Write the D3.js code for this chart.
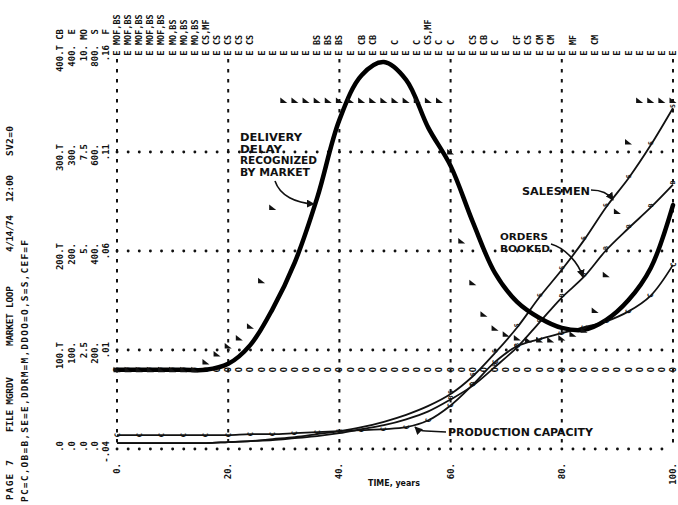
<!DOCTYPE html>
<html>
<head>
<meta charset="utf-8">
<script src="https://cdn.jsdelivr.net/npm/d3@7"></script>
<style>
  body { margin: 0; background: #fff; }
  svg { display: block; }
  .mono { font-family: "DejaVu Sans Mono", "Liberation Mono", monospace; font-weight: bold; fill: #111; }
  .hand { font-family: "DejaVu Sans", sans-serif; font-stretch: condensed; font-weight: bold; fill: #111; }
</style>
</head>
<body>
<div id="chart"></div>
<script>
var chart_width = 678;
var chart_height = 505;

// tempo (anos)
var years = [0, 4, 8, 12, 16, 20, 24, 28, 32, 36, 40, 44, 48, 52, 56, 60, 64, 68, 72, 76, 80, 84, 88, 92, 96, 100];
var print_years = d3.range(0, 101, 2);   // uma linha impressa a cada 2 anos
var time_ticks = [0, 20, 40, 60, 80, 100];
var time_labels = ['0.', '20.', '40.', '60.', '80.', '100.'];

// series
var ddrm = [2.0, 2.0, 2.0, 2.0, 2.0, 2.15, 2.63, 3.54, 4.72, 6.34, 8.31, 9.44, 9.77, 9.32, 8.11, 7.15, 5.73, 4.44, 3.71, 3.31, 3.06, 3.01, 3.26, 3.76, 4.57, 6.16];
var pc = [14, 14, 14, 14, 14, 14, 15, 15, 16, 17, 18, 19, 20, 22, 29, 44, 65, 88, 104, 111, 117, 123, 129, 139, 155, 186];
var ob = [6, 6, 6, 6, 6, 7, 8, 9, 11, 13, 16, 20, 24, 30, 38, 50, 64, 83, 103, 128, 153, 174, 201, 223, 244, 267];
var sm = [12, 12, 12, 12, 12, 14, 16, 20, 24, 30, 36, 44, 55, 69, 87, 111, 147, 194, 246, 307, 362, 422, 489, 547, 614, 689];
// CEF, a cada 2 anos
var cef = [0, 0, 0, 0, 0, 0, 0, 0, .004, .008, .012, .016, .022, .045, .082,
    .136, .136, .136, .136, .136, .136, .136, .136, .136, .136, .136, .136, .136, .136, .136,
    .11, .065, .044, .028, .021, .018, .016, .015, .015, .015, .016, .018, .02, .03, .048, .08, .115, .136, .136, .136, .136];
var ddoo = 2.0;   // constante
var se = 400;     // impresso no topo da escala

// escalas impressas a esquerda
var scale_T = ['.0', '100.T', '200.T', '300.T', '400.T'];
var scale_E = ['.0', '100.', '200.', '300.', '400.'];
var scale_MO = ['.0', '2.5', '5.', '7.5', '10.'];
var scale_S = ['.0', '200.', '400.', '600.', '800.'];
var scale_F = ['-.04', '.01', '.06', '.11', '.16'];
var scale_names = ['CB', 'E', 'MO', 'S', 'F'];

// sobreposicoes impressas no topo
var overlap_years = [0, 2, 4, 6, 8, 10, 12, 14, 16, 18, 20, 22, 24, 36, 38, 40, 44, 46, 50, 54, 56, 58, 60, 64, 66, 68, 72, 74, 76, 78, 82, 86];
var overlap_labels = ['MOF,BS', 'MOF,BS', 'MOF,BS', 'MOF,BS', 'MOF,BS', 'MO,BS', 'MO,BS', 'MO,BS', 'CS,MF', 'CS', 'CS', 'CS', 'CS',
    'BS', 'BS', 'BS', 'CB', 'CB', 'C', 'C', 'CS,MF', 'C', 'C', 'CS', 'CB', 'C', 'CF', 'CS', 'CM', 'CM', 'MF', 'CM'];

var svg = d3.select('#chart')
    .append('svg')
    .attr('width', chart_width)
    .attr('height', chart_height);

svg.append('rect')
    .attr('width', chart_width)
    .attr('height', chart_height)
    .attr('fill', '#fff');

// Criar Escalas
var x_scale = d3.scaleLinear().domain([0, 100]).range([117, 673]);
var y_T = d3.scaleLinear().domain([0, 400]).range([449, 53]);
var y_E = d3.scaleLinear().domain([0, 400]).range([449, 53]);
var y_MO = d3.scaleLinear().domain([0, 10]).range([449, 53]);
var y_S = d3.scaleLinear().domain([0, 800]).range([449, 53]);
var y_F = d3.scaleLinear().domain([-0.04, 0.16]).range([449, 53]);

// texto girado (pagina impressa de lado)
function vtext(x, y, str, size, anchor) {
    return svg.append('text')
        .attr('class', 'mono')
        .attr('transform', 'translate(' + x + ',' + y + ') rotate(-90)')
        .attr('text-anchor', anchor || 'middle')
        .attr('dominant-baseline', 'central')
        .style('font-size', size + 'px')
        .text(str);
}

// grade vertical
svg.selectAll('.vgrid')
    .data(time_ticks)
    .enter()
    .append('line')
    .attr('x1', function (d) { return x_scale(d); })
    .attr('x2', function (d) { return x_scale(d); })
    .attr('y1', y_T(400) + 6)
    .attr('y2', y_T(0))
    .attr('stroke', '#111')
    .attr('stroke-width', 2)
    .attr('stroke-dasharray', '3.5,6.5');

// grade horizontal (pontos)
svg.selectAll('.hgrid')
    .data([0, 100, 200, 300])
    .enter()
    .append('line')
    .attr('x1', x_scale(0))
    .attr('x2', x_scale(100))
    .attr('y1', function (d) { return y_T(d); })
    .attr('y2', function (d) { return y_T(d); })
    .attr('stroke', '#111')
    .attr('stroke-width', 2.8)
    .attr('stroke-linecap', 'round')
    .attr('stroke-dasharray', '0.1,11.02');

// linha de E no topo
print_years.forEach(function (d) {
    vtext(x_scale(d), y_E(se), 'E', 9);
});

// linha de O (DDOO)
print_years.forEach(function (d) {
    vtext(x_scale(d), y_MO(ddoo), 'O', 8.5);
});

// curvas
var line = function (ys, data) {
    return d3.line()
        .x(function (d, i) { return x_scale(years[i]); })
        .y(function (d) { return ys(d); })
        .curve(d3.curveCatmullRom)(data);
};

svg.append('path').attr('d', line(y_T, pc))
    .attr('fill', 'none').attr('stroke', '#111').attr('stroke-width', 1.8);
svg.append('path').attr('d', line(y_T, ob))
    .attr('fill', 'none').attr('stroke', '#111').attr('stroke-width', 1.8);
svg.append('path').attr('d', line(y_S, sm))
    .attr('fill', 'none').attr('stroke', '#111').attr('stroke-width', 1.8);
svg.append('path').attr('d', line(y_MO, ddrm))
    .attr('fill', 'none').attr('stroke', '#000').attr('stroke-width', 4.5)
    .attr('stroke-linecap', 'round');

// caracteres nas curvas
pc.forEach(function (d, i) { vtext(x_scale(years[i]), y_T(d), 'C', 7.5); });
ob.forEach(function (d, i) { if (years[i] > 56) vtext(x_scale(years[i]), y_T(d) - 2, 'B', 6.5); });
sm.forEach(function (d, i) { if (years[i] > 56) vtext(x_scale(years[i]), y_S(d) - 2, 'S', 6.5); });

// CEF (F) - marcas triangulares
svg.selectAll('.fmark')
    .data(cef)
    .enter()
    .append('path')
    .attr('d', 'M-3.5,-3 L-3.5,2.5 L3.5,2.5 Z')
    .attr('transform', function (d, i) {
        return 'translate(' + x_scale(print_years[i]) + ',' + y_F(d) + ')';
    })
    .attr('fill', '#111');

// rotulos de sobreposicao
overlap_years.forEach(function (d, i) {
    vtext(x_scale(d), 45, overlap_labels[i], 8.5, 'start');
});

// escalas a esquerda
var scale_cols = [60, 72, 84, 95, 106];
var scale_sets = [scale_T, scale_E, scale_MO, scale_S, scale_F];
scale_sets.forEach(function (set, c) {
    set.forEach(function (lab, k) {
        vtext(scale_cols[c], y_T(k * 100) - 8, lab, 9, 'end');
    });
    vtext(scale_cols[c], 29, scale_names[c], 9, 'end');
});

// rotulos do tempo
time_ticks.forEach(function (d, i) {
    vtext(x_scale(d), 463, time_labels[i], 9, 'end');
});

// margem esquerda
var margin_parts = [
    ['PAGE 7', 500, 40], ['FILE MGRDV', 432, 55], ['MARKET LOOP', 346, 60],
    ['4/14/74', 252, 37], ['12:00', 202, 27], ['SV2=0', 156, 30]
];
margin_parts.forEach(function (p) {
    vtext(9, p[1], p[0], 9.5, 'start').attr('textLength', p[2]).attr('lengthAdjust', 'spacing');
});
vtext(24, 502, 'PC=C,OB=B,SE=E,DDRM=M,DDOO=O,S=S,CEF=F', 9.5, 'start')
    .attr('textLength', 262).attr('lengthAdjust', 'spacing');

// anotacoes
function label(x, y, str, w, size) {
    svg.append('text')
        .attr('class', 'hand')
        .attr('x', x).attr('y', y)
        .attr('textLength', w).attr('lengthAdjust', 'spacingAndGlyphs')
        .style('font-size', size + 'px')
        .text(str);
}
label(240, 141, 'DELIVERY', 62, 10);
label(240, 152.7, 'DELAY', 42, 10);
label(240, 164.4, 'RECOGNIZED', 77, 10);
label(240, 176.1, 'BY MARKET', 70, 10);
label(522, 195, 'SALESMEN', 68, 11);
label(500, 240, 'ORDERS', 48, 9.5);
label(500, 251.5, 'BOOKED', 50, 9.5);
label(448, 436, 'PRODUCTION CAPACITY', 145, 11);
label(368, 486, 'TIME, years', 52, 9.5);

svg.append('defs').append('marker')
    .attr('id', 'arr')
    .attr('viewBox', '0 0 10 10')
    .attr('refX', 9).attr('refY', 5)
    .attr('markerWidth', 5).attr('markerHeight', 5)
    .attr('orient', 'auto')
    .append('path').attr('d', 'M0,0 L10,5 L0,10 Z').attr('fill', '#111');

var arrows = [
    'M275,181 C280,196 296,203 314,204',
    'M591,190 C602,190 609,194 613,200',
    'M551,244 C565,248 578,262 583,277',
    'M446,432 L426,431 C420,431 417,429 415,427'
];
svg.selectAll('.arrow')
    .data(arrows)
    .enter()
    .append('path')
    .attr('d', function (d) { return d; })
    .attr('fill', 'none')
    .attr('stroke', '#111')
    .attr('stroke-width', 1.6)
    .attr('marker-end', 'url(#arr)');
</script>
</body>
</html>
